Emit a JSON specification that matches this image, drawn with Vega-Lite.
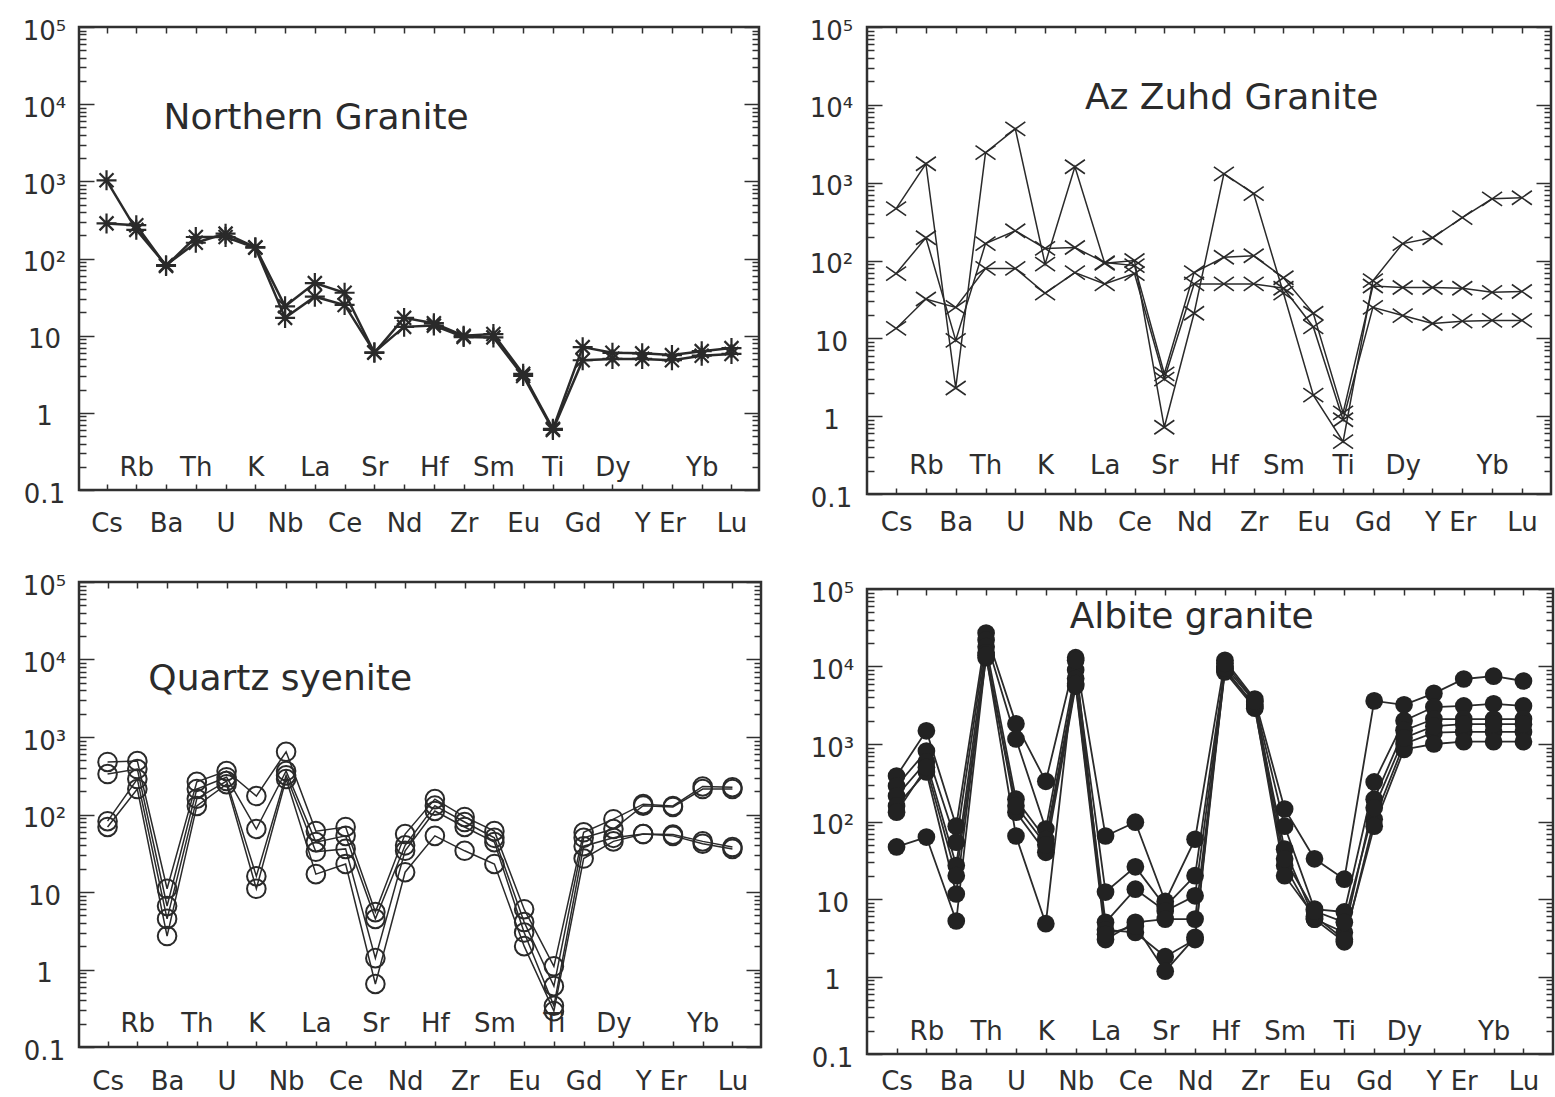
{
"$schema": "https://vega.github.io/schema/vega-lite/v6.json",
"background": "white",
"padding": {"left": 20, "top": 16, "right": 0, "bottom": 0},
"config": {
  "view": {"stroke": "#303030", "strokeWidth": 2.5},
  "font": "DejaVu Sans",
  "axis": {"grid": false, "title": null, "domain": false, "labelFont": "DejaVu Sans", "labelFontSize": 26, "labelColor": "#2e2e2e", "tickColor": "#303030", "tickWidth": 1.5, "labelOverlap": false, "labelFlush": false}
},
"datasets": {
  "ng": [
    {"s":"A","e":"Cs","v":1030},{"s":"A","e":"Rb","v":235},{"s":"A","e":"Ba","v":82},{"s":"A","e":"Th","v":160},{"s":"A","e":"U","v":210},{"s":"A","e":"K","v":140},{"s":"A","e":"Nb","v":24},{"s":"A","e":"La","v":48},{"s":"A","e":"Ce","v":36},{"s":"A","e":"Sr","v":6},{"s":"A","e":"Nd","v":17},{"s":"A","e":"Hf","v":14.5},{"s":"A","e":"Zr","v":10},{"s":"A","e":"Sm","v":10.5},{"s":"A","e":"Eu","v":3.2},{"s":"A","e":"Ti","v":0.62},{"s":"A","e":"Gd","v":7.1},{"s":"A","e":"Dy","v":6},{"s":"A","e":"Y","v":5.9},{"s":"A","e":"Er","v":5.6},{"s":"A","e":"Yb","v":6.3},{"s":"A","e":"Lu","v":6.9},
    {"s":"B","e":"Cs","v":285},{"s":"B","e":"Rb","v":270},{"s":"B","e":"Ba","v":80},{"s":"B","e":"Th","v":190},{"s":"B","e":"U","v":190},{"s":"B","e":"K","v":138},{"s":"B","e":"Nb","v":17},{"s":"B","e":"La","v":32},{"s":"B","e":"Ce","v":25},{"s":"B","e":"Sr","v":6.1},{"s":"B","e":"Nd","v":13},{"s":"B","e":"Hf","v":13.5},{"s":"B","e":"Zr","v":9.6},{"s":"B","e":"Sm","v":9.5},{"s":"B","e":"Eu","v":3.0},{"s":"B","e":"Ti","v":0.6},{"s":"B","e":"Gd","v":4.8},{"s":"B","e":"Dy","v":5},{"s":"B","e":"Y","v":5},{"s":"B","e":"Er","v":4.8},{"s":"B","e":"Yb","v":5.5},{"s":"B","e":"Lu","v":5.8}
  ],
  "az": [
    {"s":"1","e":"Cs","v":464},{"s":"1","e":"Rb","v":1750},{"s":"1","e":"Ba","v":2.3},{"s":"1","e":"Th","v":2430},{"s":"1","e":"U","v":4900},{"s":"1","e":"K","v":90},{"s":"1","e":"Nb","v":1600},{"s":"1","e":"La","v":92},{"s":"1","e":"Ce","v":100},{"s":"1","e":"Sr","v":0.72},{"s":"1","e":"Nd","v":21},{"s":"1","e":"Hf","v":1300},{"s":"1","e":"Zr","v":725},{"s":"1","e":"Sm","v":38},{"s":"1","e":"Eu","v":1.86},{"s":"1","e":"Ti","v":0.47},{"s":"1","e":"Gd","v":55},{"s":"1","e":"Dy","v":165},{"s":"1","e":"Y","v":196},{"s":"1","e":"Er","v":355},{"s":"1","e":"Yb","v":620},{"s":"1","e":"Lu","v":640},
    {"s":"2","e":"Cs","v":68},{"s":"2","e":"Rb","v":196},{"s":"2","e":"Ba","v":9.4},{"s":"2","e":"Th","v":165},{"s":"2","e":"U","v":241},{"s":"2","e":"K","v":143},{"s":"2","e":"Nb","v":147},{"s":"2","e":"La","v":94},{"s":"2","e":"Ce","v":86},{"s":"2","e":"Sr","v":3.5},{"s":"2","e":"Nd","v":70},{"s":"2","e":"Hf","v":110},{"s":"2","e":"Zr","v":115},{"s":"2","e":"Sm","v":60},{"s":"2","e":"Eu","v":21},{"s":"2","e":"Ti","v":1.1},{"s":"2","e":"Gd","v":47},{"s":"2","e":"Dy","v":45},{"s":"2","e":"Y","v":45},{"s":"2","e":"Er","v":44},{"s":"2","e":"Yb","v":39},{"s":"2","e":"Lu","v":40},
    {"s":"3","e":"Cs","v":13.4},{"s":"3","e":"Rb","v":32},{"s":"3","e":"Ba","v":25},{"s":"3","e":"Th","v":79},{"s":"3","e":"U","v":79},{"s":"3","e":"K","v":38},{"s":"3","e":"Nb","v":70},{"s":"3","e":"La","v":50},{"s":"3","e":"Ce","v":68},{"s":"3","e":"Sr","v":3.0},{"s":"3","e":"Nd","v":50},{"s":"3","e":"Hf","v":50},{"s":"3","e":"Zr","v":50},{"s":"3","e":"Sm","v":44},{"s":"3","e":"Eu","v":14},{"s":"3","e":"Ti","v":0.9},{"s":"3","e":"Gd","v":25},{"s":"3","e":"Dy","v":19.6},{"s":"3","e":"Y","v":15.5},{"s":"3","e":"Er","v":16.6},{"s":"3","e":"Yb","v":17},{"s":"3","e":"Lu","v":17}
  ],
  "qs": [
    {"s":"1","e":"Cs","v":476},{"s":"1","e":"Rb","v":490},{"s":"1","e":"Ba","v":11},{"s":"1","e":"Th","v":264},{"s":"1","e":"U","v":364},{"s":"1","e":"K","v":173},{"s":"1","e":"Nb","v":645},{"s":"1","e":"La","v":61},{"s":"1","e":"Ce","v":69},{"s":"1","e":"Sr","v":5.5},{"s":"1","e":"Nd","v":56},{"s":"1","e":"Hf","v":158},{"s":"1","e":"Zr","v":93},{"s":"1","e":"Sm","v":61},{"s":"1","e":"Eu","v":6},{"s":"1","e":"Ti","v":1.1},{"s":"1","e":"Gd","v":59},{"s":"1","e":"Dy","v":87},{"s":"1","e":"Y","v":136},{"s":"1","e":"Er","v":129},{"s":"1","e":"Yb","v":230},{"s":"1","e":"Lu","v":225},
    {"s":"2","e":"Cs","v":333},{"s":"2","e":"Rb","v":386},{"s":"2","e":"Ba","v":6.6},{"s":"2","e":"Th","v":213},{"s":"2","e":"U","v":303},{"s":"2","e":"K","v":65},{"s":"2","e":"Nb","v":364},{"s":"2","e":"La","v":44},{"s":"2","e":"Ce","v":53},{"s":"2","e":"Sr","v":4.5},{"s":"2","e":"Nd","v":40},{"s":"2","e":"Hf","v":130},{"s":"2","e":"Zr","v":80},{"s":"2","e":"Sm","v":50},{"s":"2","e":"Eu","v":4.1},{"s":"2","e":"Ti","v":0.61},{"s":"2","e":"Gd","v":50},{"s":"2","e":"Dy","v":65},{"s":"2","e":"Y","v":130},{"s":"2","e":"Er","v":125},{"s":"2","e":"Yb","v":213},{"s":"2","e":"Lu","v":213},
    {"s":"3","e":"Cs","v":82},{"s":"3","e":"Rb","v":287},{"s":"3","e":"Ba","v":4.5},{"s":"3","e":"Th","v":160},{"s":"3","e":"U","v":270},{"s":"3","e":"K","v":16},{"s":"3","e":"Nb","v":320},{"s":"3","e":"La","v":33},{"s":"3","e":"Ce","v":36},{"s":"3","e":"Sr","v":1.4},{"s":"3","e":"Nd","v":34},{"s":"3","e":"Hf","v":111},{"s":"3","e":"Zr","v":69},{"s":"3","e":"Sm","v":44},{"s":"3","e":"Eu","v":3},{"s":"3","e":"Ti","v":0.34},{"s":"3","e":"Gd","v":39},{"s":"3","e":"Dy","v":50},{"s":"3","e":"Y","v":56},{"s":"3","e":"Er","v":55},{"s":"3","e":"Yb","v":45},{"s":"3","e":"Lu","v":38},
    {"s":"4","e":"Cs","v":69},{"s":"4","e":"Rb","v":213},{"s":"4","e":"Ba","v":2.7},{"s":"4","e":"Th","v":129},{"s":"4","e":"U","v":246},{"s":"4","e":"K","v":11},{"s":"4","e":"Nb","v":287},{"s":"4","e":"La","v":17},{"s":"4","e":"Ce","v":23},{"s":"4","e":"Sr","v":0.65},{"s":"4","e":"Nd","v":18},{"s":"4","e":"Hf","v":53},{"s":"4","e":"Zr","v":34},{"s":"4","e":"Sm","v":23},{"s":"4","e":"Eu","v":2},{"s":"4","e":"Ti","v":0.29},{"s":"4","e":"Gd","v":27},{"s":"4","e":"Dy","v":45},{"s":"4","e":"Y","v":56},{"s":"4","e":"Er","v":53},{"s":"4","e":"Yb","v":42},{"s":"4","e":"Lu","v":36}
  ],
  "ab": [
    {"s":"1","e":"Cs","v":386},{"s":"1","e":"Rb","v":1480},{"s":"1","e":"Ba","v":87},{"s":"1","e":"Th","v":27000},{"s":"1","e":"U","v":1820},{"s":"1","e":"K","v":330},{"s":"1","e":"Nb","v":13000},{"s":"1","e":"La","v":65},{"s":"1","e":"Ce","v":98},{"s":"1","e":"Sr","v":9.3},{"s":"1","e":"Nd","v":59},{"s":"1","e":"Hf","v":12000},{"s":"1","e":"Zr","v":3800},{"s":"1","e":"Sm","v":145},{"s":"1","e":"Eu","v":33},{"s":"1","e":"Ti","v":18},{"s":"1","e":"Gd","v":3600},{"s":"1","e":"Dy","v":3200},{"s":"1","e":"Y","v":4500},{"s":"1","e":"Er","v":6900},{"s":"1","e":"Yb","v":7500},{"s":"1","e":"Lu","v":6500},
    {"s":"2","e":"Cs","v":287},{"s":"2","e":"Rb","v":810},{"s":"2","e":"Ba","v":54},{"s":"2","e":"Th","v":22000},{"s":"2","e":"U","v":1160},{"s":"2","e":"K","v":80},{"s":"2","e":"Nb","v":9000},{"s":"2","e":"La","v":12.3},{"s":"2","e":"Ce","v":26},{"s":"2","e":"Sr","v":8},{"s":"2","e":"Nd","v":20},{"s":"2","e":"Hf","v":10000},{"s":"2","e":"Zr","v":3500},{"s":"2","e":"Sm","v":87},{"s":"2","e":"Eu","v":7.4},{"s":"2","e":"Ti","v":6.8},{"s":"2","e":"Gd","v":324},{"s":"2","e":"Dy","v":2000},{"s":"2","e":"Y","v":3000},{"s":"2","e":"Er","v":3100},{"s":"2","e":"Yb","v":3300},{"s":"2","e":"Lu","v":3100},
    {"s":"3","e":"Cs","v":213},{"s":"3","e":"Rb","v":590},{"s":"3","e":"Ba","v":27},{"s":"3","e":"Th","v":18000},{"s":"3","e":"U","v":194},{"s":"3","e":"K","v":59},{"s":"3","e":"Nb","v":7000},{"s":"3","e":"La","v":5},{"s":"3","e":"Ce","v":13.4},{"s":"3","e":"Sr","v":7},{"s":"3","e":"Nd","v":11},{"s":"3","e":"Hf","v":9000},{"s":"3","e":"Zr","v":3200},{"s":"3","e":"Sm","v":44},{"s":"3","e":"Eu","v":5.5},{"s":"3","e":"Ti","v":3.7},{"s":"3","e":"Gd","v":194},{"s":"3","e":"Dy","v":1500},{"s":"3","e":"Y","v":2100},{"s":"3","e":"Er","v":2100},{"s":"3","e":"Yb","v":2100},{"s":"3","e":"Lu","v":2100},
    {"s":"4","e":"Cs","v":159},{"s":"4","e":"Rb","v":436},{"s":"4","e":"Ba","v":11.6},{"s":"4","e":"Th","v":15000},{"s":"4","e":"U","v":132},{"s":"4","e":"K","v":40},{"s":"4","e":"Nb","v":5600},{"s":"4","e":"La","v":3},{"s":"4","e":"Ce","v":5},{"s":"4","e":"Sr","v":5.5},{"s":"4","e":"Nd","v":5.5},{"s":"4","e":"Hf","v":8500},{"s":"4","e":"Zr","v":2900},{"s":"4","e":"Sm","v":27},{"s":"4","e":"Eu","v":5.5},{"s":"4","e":"Ti","v":2.8},{"s":"4","e":"Gd","v":107},{"s":"4","e":"Dy","v":1000},{"s":"4","e":"Y","v":1400},{"s":"4","e":"Er","v":1430},{"s":"4","e":"Yb","v":1430},{"s":"4","e":"Lu","v":1430},
    {"s":"5","e":"Cs","v":132},{"s":"5","e":"Rb","v":500},{"s":"5","e":"Ba","v":20},{"s":"5","e":"Th","v":13000},{"s":"5","e":"U","v":160},{"s":"5","e":"K","v":50},{"s":"5","e":"Nb","v":6000},{"s":"5","e":"La","v":4},{"s":"5","e":"Ce","v":3.7},{"s":"5","e":"Sr","v":1.8},{"s":"5","e":"Nd","v":3},{"s":"5","e":"Hf","v":9500},{"s":"5","e":"Zr","v":3000},{"s":"5","e":"Sm","v":20},{"s":"5","e":"Eu","v":6},{"s":"5","e":"Ti","v":3},{"s":"5","e":"Gd","v":87},{"s":"5","e":"Dy","v":850},{"s":"5","e":"Y","v":1000},{"s":"5","e":"Er","v":1070},{"s":"5","e":"Yb","v":1070},{"s":"5","e":"Lu","v":1070},
    {"s":"6","e":"Cs","v":47},{"s":"6","e":"Rb","v":63},{"s":"6","e":"Ba","v":5.2},{"s":"6","e":"Th","v":14000},{"s":"6","e":"U","v":65},{"s":"6","e":"K","v":4.8},{"s":"6","e":"Nb","v":12000},{"s":"6","e":"La","v":3.5},{"s":"6","e":"Ce","v":4.5},{"s":"6","e":"Sr","v":1.17},{"s":"6","e":"Nd","v":3.2},{"s":"6","e":"Hf","v":11000},{"s":"6","e":"Zr","v":3600},{"s":"6","e":"Sm","v":33},{"s":"6","e":"Eu","v":7},{"s":"6","e":"Ti","v":5},{"s":"6","e":"Gd","v":150},{"s":"6","e":"Dy","v":1200},{"s":"6","e":"Y","v":1700},{"s":"6","e":"Er","v":1800},{"s":"6","e":"Yb","v":1800},{"s":"6","e":"Lu","v":1800}
  ]
},
"spacing": 44,
"hconcat": [
 {"spacing": 33,
  "vconcat": [
  {"width": 680, "height": 463, "data": {"name": "ng"},
   "layer": [
    {"mark": {"type": "line", "stroke": "#2a2a2a", "strokeWidth": 2.5},
     "encoding": {
      "x": {"field": "e", "type": "nominal", "sort": ["Cs","Rb","Ba","Th","U","K","Nb","La","Ce","Sr","Nd","Hf","Zr","Sm","Eu","Ti","Gd","Dy","Y","Er","Yb","Lu"], "scale": {"type": "point", "domain": ["Cs","Rb","Ba","Th","U","K","Nb","La","Ce","Sr","Nd","Hf","Zr","Sm","Eu","Ti","Gd","Dy","Y","Er","Yb","Lu"], "padding": 0.925},
            "axis": {"orient": "bottom", "labelAngle": 0, "tickSize": -6, "labelBaseline": "top", "labelPadding": {"condition": {"test": "indexof(['Rb','Th','K','La','Sr','Hf','Sm','Ti','Dy','Yb'],datum.value)>=0", "value": -30}, "value": 26}}},
      "y": {"field": "v", "type": "quantitative", "scale": {"type": "log", "domain": [0.1, 100000]},
            "axis": {"orient": "left", "minExtent": 57, "values": [0.1,0.2,0.3,0.4,0.5,0.6,0.7,0.8,0.9,1,2,3,4,5,6,7,8,9,10,20,30,40,50,60,70,80,90,100,200,300,400,500,600,700,800,900,1000,2000,3000,4000,5000,6000,7000,8000,9000,10000,20000,30000,40000,50000,60000,70000,80000,90000,100000],
                     "labelExpr": "datum.value==0.1?'0.1':datum.value==1?'1':datum.value==10?'10':datum.value==100?'10²':datum.value==1000?'10³':datum.value==10000?'10⁴':datum.value==100000?'10⁵':''",
                     "tickSize": {"condition": {"test": "datum.value==0.1||datum.value==1||datum.value==10||datum.value==100||datum.value==1000||datum.value==10000||datum.value==100000", "value": -15}, "value": -7},
                     "labelPadding": 50, "labelAlign": "center", "labelBaseline": "middle", "labelOffset": 4}},
      "detail": {"field": "s"}}},
    {"mark": {"type": "point", "shape": "M-1,0L1,0M0,-1L0,1M-0.7,-0.7L0.7,0.7M-0.7,0.7L0.7,-0.7", "size": 400, "filled": false, "color": "#2a2a2a", "strokeWidth": 2.2, "opacity": 1},
     "encoding": {
      "x": {"field": "e", "type": "nominal", "scale": {"type": "point", "domain": ["Cs","Rb","Ba","Th","U","K","Nb","La","Ce","Sr","Nd","Hf","Zr","Sm","Eu","Ti","Gd","Dy","Y","Er","Yb","Lu"], "padding": 0.925},
            "axis": {"orient": "top", "labels": false, "tickSize": -6}},
      "y": {"field": "v", "type": "quantitative", "scale": {"type": "log", "domain": [0.1, 100000]},
            "axis": {"orient": "right", "labels": false, "minExtent": 0, "values": [0.1,0.2,0.3,0.4,0.5,0.6,0.7,0.8,0.9,1,2,3,4,5,6,7,8,9,10,20,30,40,50,60,70,80,90,100,200,300,400,500,600,700,800,900,1000,2000,3000,4000,5000,6000,7000,8000,9000,10000,20000,30000,40000,50000,60000,70000,80000,90000,100000],
                     "tickSize": {"condition": {"test": "datum.value==0.1||datum.value==1||datum.value==10||datum.value==100||datum.value==1000||datum.value==10000||datum.value==100000", "value": -15}, "value": -7}}}}},
    {"data": {"values": [{}]},
     "mark": {"type": "text", "text": "Northern Granite", "align": "left", "baseline": "middle", "fontSize": 36, "font": "DejaVu Sans", "fill": "#2b2b2b", "dx": -2.5},
     "encoding": {
      "x": {"datum": "Ba", "type": "nominal", "scale": {"type": "point", "domain": ["Cs","Rb","Ba","Th","U","K","Nb","La","Ce","Sr","Nd","Hf","Zr","Sm","Eu","Ti","Gd","Dy","Y","Er","Yb","Lu"], "padding": 0.925}, "axis": null},
      "y": {"datum": 6590, "type": "quantitative", "scale": {"type": "log", "domain": [0.1, 100000]}, "axis": null}}}
   ],
   "resolve": {"axis": {"x": "independent", "y": "independent"}}},
  {"width": 682, "height": 465, "data": {"name": "qs"},
   "layer": [
    {"mark": {"type": "line", "stroke": "#2a2a2a", "strokeWidth": 1.5},
     "encoding": {
      "x": {"field": "e", "type": "nominal", "sort": ["Cs","Rb","Ba","Th","U","K","Nb","La","Ce","Sr","Nd","Hf","Zr","Sm","Eu","Ti","Gd","Dy","Y","Er","Yb","Lu"], "scale": {"type": "point", "domain": ["Cs","Rb","Ba","Th","U","K","Nb","La","Ce","Sr","Nd","Hf","Zr","Sm","Eu","Ti","Gd","Dy","Y","Er","Yb","Lu"], "padding": 0.96},
            "axis": {"orient": "bottom", "labelAngle": 0, "tickSize": -6, "labelBaseline": "top", "labelPadding": {"condition": {"test": "indexof(['Rb','Th','K','La','Sr','Hf','Sm','Ti','Dy','Yb'],datum.value)>=0", "value": -31}, "value": 27}}},
      "y": {"field": "v", "type": "quantitative", "scale": {"type": "log", "domain": [0.1, 100000]},
            "axis": {"orient": "left", "minExtent": 57, "values": [0.1,0.2,0.3,0.4,0.5,0.6,0.7,0.8,0.9,1,2,3,4,5,6,7,8,9,10,20,30,40,50,60,70,80,90,100,200,300,400,500,600,700,800,900,1000,2000,3000,4000,5000,6000,7000,8000,9000,10000,20000,30000,40000,50000,60000,70000,80000,90000,100000],
                     "labelExpr": "datum.value==0.1?'0.1':datum.value==1?'1':datum.value==10?'10':datum.value==100?'10²':datum.value==1000?'10³':datum.value==10000?'10⁴':datum.value==100000?'10⁵':''",
                     "tickSize": {"condition": {"test": "datum.value==0.1||datum.value==1||datum.value==10||datum.value==100||datum.value==1000||datum.value==10000||datum.value==100000", "value": -15}, "value": -7},
                     "labelPadding": 50, "labelAlign": "center", "labelBaseline": "middle", "labelOffset": 4}},
      "detail": {"field": "s"}}},
    {"mark": {"type": "point", "shape": "circle", "size": 346, "filled": false, "color": "#2a2a2a", "strokeWidth": 2, "opacity": 1},
     "encoding": {
      "x": {"field": "e", "type": "nominal", "scale": {"type": "point", "domain": ["Cs","Rb","Ba","Th","U","K","Nb","La","Ce","Sr","Nd","Hf","Zr","Sm","Eu","Ti","Gd","Dy","Y","Er","Yb","Lu"], "padding": 0.96},
            "axis": {"orient": "top", "labels": false, "tickSize": -6}},
      "y": {"field": "v", "type": "quantitative", "scale": {"type": "log", "domain": [0.1, 100000]},
            "axis": {"orient": "right", "labels": false, "minExtent": 0, "values": [0.1,0.2,0.3,0.4,0.5,0.6,0.7,0.8,0.9,1,2,3,4,5,6,7,8,9,10,20,30,40,50,60,70,80,90,100,200,300,400,500,600,700,800,900,1000,2000,3000,4000,5000,6000,7000,8000,9000,10000,20000,30000,40000,50000,60000,70000,80000,90000,100000],
                     "tickSize": {"condition": {"test": "datum.value==0.1||datum.value==1||datum.value==10||datum.value==100||datum.value==1000||datum.value==10000||datum.value==100000", "value": -15}, "value": -7}}}}},
    {"data": {"values": [{}]},
     "mark": {"type": "text", "text": "Quartz syenite", "align": "left", "baseline": "middle", "fontSize": 36, "font": "DejaVu Sans", "fill": "#2b2b2b", "dx": 11},
     "encoding": {
      "x": {"datum": "Rb", "type": "nominal", "scale": {"type": "point", "domain": ["Cs","Rb","Ba","Th","U","K","Nb","La","Ce","Sr","Nd","Hf","Zr","Sm","Eu","Ti","Gd","Dy","Y","Er","Yb","Lu"], "padding": 0.96}, "axis": null},
      "y": {"datum": 5600, "type": "quantitative", "scale": {"type": "log", "domain": [0.1, 100000]}, "axis": null}}}
   ],
   "resolve": {"axis": {"x": "independent", "y": "independent"}}}
 ]},
 {"spacing": 41,
  "vconcat": [
  {"width": 684, "height": 467, "data": {"name": "az"},
   "layer": [
    {"mark": {"type": "line", "stroke": "#2a2a2a", "strokeWidth": 1.5},
     "encoding": {
      "x": {"field": "e", "type": "nominal", "sort": ["Cs","Rb","Ba","Th","U","K","Nb","La","Ce","Sr","Nd","Hf","Zr","Sm","Eu","Ti","Gd","Dy","Y","Er","Yb","Lu"], "scale": {"type": "point", "domain": ["Cs","Rb","Ba","Th","U","K","Nb","La","Ce","Sr","Nd","Hf","Zr","Sm","Eu","Ti","Gd","Dy","Y","Er","Yb","Lu"], "padding": 0.977},
            "axis": {"orient": "bottom", "labelAngle": 0, "tickSize": -6, "labelBaseline": "top", "labelPadding": {"condition": {"test": "indexof(['Rb','Th','K','La','Sr','Hf','Sm','Ti','Dy','Yb'],datum.value)>=0", "value": -36}, "value": 21}}},
      "y": {"field": "v", "type": "quantitative", "scale": {"type": "log", "domain": [0.1, 100000]},
            "axis": {"orient": "left", "minExtent": 57, "values": [0.1,0.2,0.3,0.4,0.5,0.6,0.7,0.8,0.9,1,2,3,4,5,6,7,8,9,10,20,30,40,50,60,70,80,90,100,200,300,400,500,600,700,800,900,1000,2000,3000,4000,5000,6000,7000,8000,9000,10000,20000,30000,40000,50000,60000,70000,80000,90000,100000],
                     "labelExpr": "datum.value==0.1?'0.1':datum.value==1?'1':datum.value==10?'10':datum.value==100?'10²':datum.value==1000?'10³':datum.value==10000?'10⁴':datum.value==100000?'10⁵':''",
                     "tickSize": {"condition": {"test": "datum.value==0.1||datum.value==1||datum.value==10||datum.value==100||datum.value==1000||datum.value==10000||datum.value==100000", "value": -15}, "value": -7},
                     "labelPadding": 51, "labelAlign": "center", "labelBaseline": "middle", "labelOffset": 4}},
      "detail": {"field": "s"}}},
    {"mark": {"type": "point", "shape": "M-1,-0.7L1,0.7M-1,0.7L1,-0.7", "size": 400, "filled": false, "color": "#2a2a2a", "strokeWidth": 1.6, "opacity": 1},
     "encoding": {
      "x": {"field": "e", "type": "nominal", "scale": {"type": "point", "domain": ["Cs","Rb","Ba","Th","U","K","Nb","La","Ce","Sr","Nd","Hf","Zr","Sm","Eu","Ti","Gd","Dy","Y","Er","Yb","Lu"], "padding": 0.977},
            "axis": {"orient": "top", "labels": false, "tickSize": -6}},
      "y": {"field": "v", "type": "quantitative", "scale": {"type": "log", "domain": [0.1, 100000]},
            "axis": {"orient": "right", "labels": false, "minExtent": 0, "values": [0.1,0.2,0.3,0.4,0.5,0.6,0.7,0.8,0.9,1,2,3,4,5,6,7,8,9,10,20,30,40,50,60,70,80,90,100,200,300,400,500,600,700,800,900,1000,2000,3000,4000,5000,6000,7000,8000,9000,10000,20000,30000,40000,50000,60000,70000,80000,90000,100000],
                     "tickSize": {"condition": {"test": "datum.value==0.1||datum.value==1||datum.value==10||datum.value==100||datum.value==1000||datum.value==10000||datum.value==100000", "value": -15}, "value": -7}}}}},
    {"data": {"values": [{}]},
     "mark": {"type": "text", "text": "Az Zuhd Granite", "align": "left", "baseline": "middle", "fontSize": 36, "font": "DejaVu Sans", "fill": "#2b2b2b", "dx": 10},
     "encoding": {
      "x": {"datum": "Nb", "type": "nominal", "scale": {"type": "point", "domain": ["Cs","Rb","Ba","Th","U","K","Nb","La","Ce","Sr","Nd","Hf","Zr","Sm","Eu","Ti","Gd","Dy","Y","Er","Yb","Lu"], "padding": 0.977}, "axis": null},
      "y": {"datum": 12300, "type": "quantitative", "scale": {"type": "log", "domain": [0.1, 100000]}, "axis": null}}}
   ],
   "resolve": {"axis": {"x": "independent", "y": "independent"}}},
  {"width": 686, "height": 465, "data": {"name": "ab"},
   "layer": [
    {"mark": {"type": "line", "stroke": "#2a2a2a", "strokeWidth": 1.8},
     "encoding": {
      "x": {"field": "e", "type": "nominal", "sort": ["Cs","Rb","Ba","Th","U","K","Nb","La","Ce","Sr","Nd","Hf","Zr","Sm","Eu","Ti","Gd","Dy","Y","Er","Yb","Lu"], "scale": {"type": "point", "domain": ["Cs","Rb","Ba","Th","U","K","Nb","La","Ce","Sr","Nd","Hf","Zr","Sm","Eu","Ti","Gd","Dy","Y","Er","Yb","Lu"], "padding": 0.99},
            "axis": {"orient": "bottom", "labelAngle": 0, "tickSize": -6, "labelBaseline": "top", "labelPadding": {"condition": {"test": "indexof(['Rb','Th','K','La','Sr','Hf','Sm','Ti','Dy','Yb'],datum.value)>=0", "value": -30}, "value": 20}}},
      "y": {"field": "v", "type": "quantitative", "scale": {"type": "log", "domain": [0.1, 100000]},
            "axis": {"orient": "left", "minExtent": 57, "values": [0.1,0.2,0.3,0.4,0.5,0.6,0.7,0.8,0.9,1,2,3,4,5,6,7,8,9,10,20,30,40,50,60,70,80,90,100,200,300,400,500,600,700,800,900,1000,2000,3000,4000,5000,6000,7000,8000,9000,10000,20000,30000,40000,50000,60000,70000,80000,90000,100000],
                     "labelExpr": "datum.value==0.1?'0.1':datum.value==1?'1':datum.value==10?'10':datum.value==100?'10²':datum.value==1000?'10³':datum.value==10000?'10⁴':datum.value==100000?'10⁵':''",
                     "tickSize": {"condition": {"test": "datum.value==0.1||datum.value==1||datum.value==10||datum.value==100||datum.value==1000||datum.value==10000||datum.value==100000", "value": -15}, "value": -7},
                     "labelPadding": 50, "labelAlign": "center", "labelBaseline": "middle", "labelOffset": 4}},
      "detail": {"field": "s"}}},
    {"mark": {"type": "point", "shape": "circle", "size": 314, "filled": true, "color": "#222222", "opacity": 1},
     "encoding": {
      "x": {"field": "e", "type": "nominal", "scale": {"type": "point", "domain": ["Cs","Rb","Ba","Th","U","K","Nb","La","Ce","Sr","Nd","Hf","Zr","Sm","Eu","Ti","Gd","Dy","Y","Er","Yb","Lu"], "padding": 0.99},
            "axis": {"orient": "top", "labels": false, "tickSize": -6}},
      "y": {"field": "v", "type": "quantitative", "scale": {"type": "log", "domain": [0.1, 100000]},
            "axis": {"orient": "right", "labels": false, "minExtent": 0, "values": [0.1,0.2,0.3,0.4,0.5,0.6,0.7,0.8,0.9,1,2,3,4,5,6,7,8,9,10,20,30,40,50,60,70,80,90,100,200,300,400,500,600,700,800,900,1000,2000,3000,4000,5000,6000,7000,8000,9000,10000,20000,30000,40000,50000,60000,70000,80000,90000,100000],
                     "tickSize": {"condition": {"test": "datum.value==0.1||datum.value==1||datum.value==10||datum.value==100||datum.value==1000||datum.value==10000||datum.value==100000", "value": -15}, "value": -7}}}}},
    {"data": {"values": [{}]},
     "mark": {"type": "text", "text": "Albite granite", "align": "left", "baseline": "middle", "fontSize": 36, "font": "DejaVu Sans", "fill": "#2b2b2b", "dx": -6},
     "encoding": {
      "x": {"datum": "Nb", "type": "nominal", "scale": {"type": "point", "domain": ["Cs","Rb","Ba","Th","U","K","Nb","La","Ce","Sr","Nd","Hf","Zr","Sm","Eu","Ti","Gd","Dy","Y","Er","Yb","Lu"], "padding": 0.99}, "axis": null},
      "y": {"datum": 43500, "type": "quantitative", "scale": {"type": "log", "domain": [0.1, 100000]}, "axis": null}}}
   ],
   "resolve": {"axis": {"x": "independent", "y": "independent"}}}
 ]}
]
}
